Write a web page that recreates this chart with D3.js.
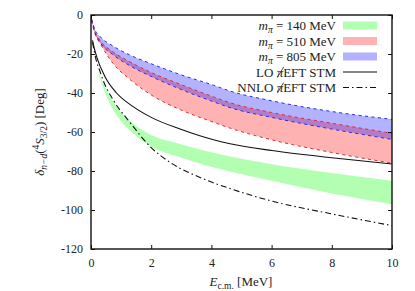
<!DOCTYPE html>
<html><head><meta charset="utf-8">
<script src="https://cdn.jsdelivr.net/npm/d3@7"></script>
<style>body{margin:0;background:#fff}svg{display:block}text{font-family:"Liberation Serif","DejaVu Serif",serif;fill:#222}</style>
</head><body>
<script>
// ---- data ----
const eBand   = [0.02, 0.13, 0.3, 0.74, 1.29, 2, 2.96, 4.07, 4.62, 6, 8, 10];
const blueTop = [-2, -7.5, -11, -16, -20.5, -25, -30.5, -36, -39, -44, -49.5, -53.5];
const blueBot = [-2.5, -9, -14, -20.5, -26, -31.5, -38, -44.5, -47.5, -52.5, -58.5, -63.8];
const redTop  = [-2.5, -8.5, -13, -19, -24, -29.5, -35.5, -42, -45, -50, -55.5, -60.7];
const redBot  = [-3, -9.5, -14.5, -25, -33, -41, -48.5, -55, -58, -64, -70.5, -76];
const eGreen   = [0.25, 0.52, 0.85, 1.4, 2, 2.88, 4.62, 6, 8, 10];
const greenTop = [-29, -38.5, -47, -55.6, -61.5, -65.8, -72.6, -76.5, -81, -85];
const greenBot = [-30, -41.9, -51.3, -60.7, -67.5, -72.5, -80.3, -85, -91.5, -97];
const eLO  = [0.05, 0.1, 0.2, 0.46, 0.85, 1.4, 2, 2.96, 4.07, 4.62, 6, 8, 10];
const LO   = [-13, -16.5, -22, -31.5, -40, -47, -52.5, -58.5, -64, -66, -69.5, -73.2, -76.4];
const eNNLO = [0.05, 0.17, 0.3, 0.39, 0.74, 1.29, 2, 2.62, 3.73, 4.62, 6, 8, 10];
const NNLO  = [-14, -23, -29, -33, -43.6, -55, -68, -75.5, -84, -89, -95.4, -102, -108];
const xTicks = [0, 2, 4, 6, 8, 10];
const yTicks = [0, -20, -40, -60, -80, -100, -120];

const W = 415, H = 291;
const m = {l: 91, r: 23, t: 15, b: 42};
const svg = d3.select("body").append("svg").attr("width", W).attr("height", H);
const x = d3.scaleLinear().domain([0, 10]).range([m.l, W - m.r]);
const y = d3.scaleLinear().domain([-120, 0]).range([H - m.b, m.t]);

const area = (es, top, bot) => d3.area().x((d, i) => x(es[i])).y0((d, i) => y(bot[i])).y1((d, i) => y(top[i])).curve(d3.curveMonotoneX)(es);
const line = (es, vs) => d3.line().x((d, i) => x(es[i])).y((d, i) => y(vs[i])).curve(d3.curveMonotoneX)(es);

const g = svg.append("g");
g.append("path").attr("d", area(eGreen, greenTop, greenBot)).attr("fill", "rgb(0,255,0)").attr("fill-opacity", 0.3);
g.append("path").attr("d", area(eBand, redTop, redBot)).attr("fill", "rgb(255,0,0)").attr("fill-opacity", 0.3);
g.append("path").attr("d", area(eBand, blueTop, blueBot)).attr("fill", "rgb(0,0,255)").attr("fill-opacity", 0.3);
const dash = "3,3.5";
[[redTop, "#e8262a"], [redBot, "#e8262a"], [blueTop, "#2a2ae8"], [blueBot, "#2a2ae8"]].forEach(([vs, c]) => {
  g.append("path").attr("d", line(eBand, vs)).attr("fill", "none").attr("stroke", c).attr("stroke-width", 1).attr("stroke-dasharray", dash);
});
g.append("path").attr("d", line(eLO, LO)).attr("fill", "none").attr("stroke", "#111").attr("stroke-width", 1.1);
g.append("path").attr("d", line(eNNLO, NNLO)).attr("fill", "none").attr("stroke", "#111").attr("stroke-width", 1.1).attr("stroke-dasharray", "6,3,1.5,3");

// axes
const fs = 12;
const ax = svg.append("g");
ax.append("g").attr("transform", `translate(0,${H - m.b})`).call(d3.axisBottom(x).tickValues(xTicks).tickSize(-4).tickPadding(9).tickFormat(d3.format("d")));
ax.append("g").attr("transform", `translate(0,${m.t})`).call(d3.axisTop(x).tickValues(xTicks).tickSize(-4).tickFormat(""));
ax.append("g").attr("transform", `translate(${m.l},0)`).call(d3.axisLeft(y).tickValues(yTicks).tickSize(-4).tickPadding(8).tickFormat(d => d === 0 ? "0" : "-" + Math.abs(d)));
ax.append("g").attr("transform", `translate(${W - m.r},0)`).call(d3.axisRight(y).tickValues(yTicks).tickSize(-4).tickFormat(""));
ax.selectAll(".domain").remove();
ax.selectAll(".tick line").attr("stroke", "#111");
ax.selectAll("text").attr("font-size", fs).attr("font-family", "Liberation Serif").attr("fill", "#333");
svg.append("rect").attr("x", m.l).attr("y", m.t).attr("width", W - m.r - m.l).attr("height", H - m.b - m.t)
  .attr("fill", "none").attr("stroke", "#111").attr("stroke-width", 1.4);

// legend
const lfs = 13;
const legX = 336, sx0 = 343, sx1 = 377;
const rows = [25.5, 41, 56.5, 72, 87.5];
const mpiLabel = (t, val) => {
  t.append("tspan").attr("font-style", "italic").text("m");
  t.append("tspan").attr("font-style", "italic").attr("font-size", 9.5).attr("dy", 3).text("π");
  t.append("tspan").attr("dy", -3).text(" = " + val + " MeV");
};
const leg = svg.append("g").attr("font-size", lfs);
[["140", "rgb(0,255,0)"], ["510", "rgb(255,0,0)"], ["805", "rgb(0,0,255)"]].forEach(([v, c], i) => {
  const t = leg.append("text").attr("x", legX).attr("y", rows[i] + 4.5).attr("text-anchor", "end");
  mpiLabel(t, v);
  leg.append("rect").attr("x", sx0).attr("y", rows[i] - 4).attr("width", sx1 - sx0).attr("height", 8).attr("fill", c).attr("fill-opacity", 0.3);
});
["LO", "NNLO"].forEach((p, i) => {
  const t = leg.append("text").attr("x", legX).attr("y", rows[3 + i] + 4.5).attr("text-anchor", "end");
  t.append("tspan").text(p + " ");
  t.append("tspan").attr("font-style", "italic").text("π");
  t.append("tspan").text("EFT STM");
  // slash through the pi (pionless EFT symbol)
  const idx = (p + " ").length;
  const b = t.node().getExtentOfChar(idx);
  leg.append("line").attr("x1", b.x + 0.8).attr("y1", b.y + b.height - 2).attr("x2", b.x + b.width + 0.5).attr("y2", b.y + 2.5)
    .attr("stroke", "#222").attr("stroke-width", 0.8);
  leg.append("line").attr("x1", sx0).attr("x2", sx1).attr("y1", rows[3 + i]).attr("y2", rows[3 + i])
    .attr("stroke", "#111").attr("stroke-width", 1.1).attr("stroke-dasharray", i ? "6,3,1.5,3" : null);
});

// axis labels
const xl = svg.append("text").attr("x", 241).attr("y", 286).attr("text-anchor", "middle").attr("font-size", 13);
xl.append("tspan").attr("font-style", "italic").text("E");
xl.append("tspan").attr("font-size", 9.5).attr("dy", 3).text("c.m.");
xl.append("tspan").attr("dy", -3).text(" [MeV]");

const yl = svg.append("text").attr("transform", `translate(44,132) rotate(-90)`).attr("text-anchor", "middle").attr("font-size", 13);
yl.append("tspan").attr("font-style", "italic").text("δ");
yl.append("tspan").attr("font-style", "italic").attr("font-size", 9.5).attr("dy", 3).text("n−d");
yl.append("tspan").attr("dy", -3).text("(");
yl.append("tspan").attr("font-size", 9.5).attr("dy", -5).text("4");
yl.append("tspan").attr("font-style", "italic").attr("dy", 5).text("S");
yl.append("tspan").attr("font-size", 9.5).attr("dy", 3).text("3/2");
yl.append("tspan").attr("dy", -3).text(")  [Deg]");
</script>
</body></html>
